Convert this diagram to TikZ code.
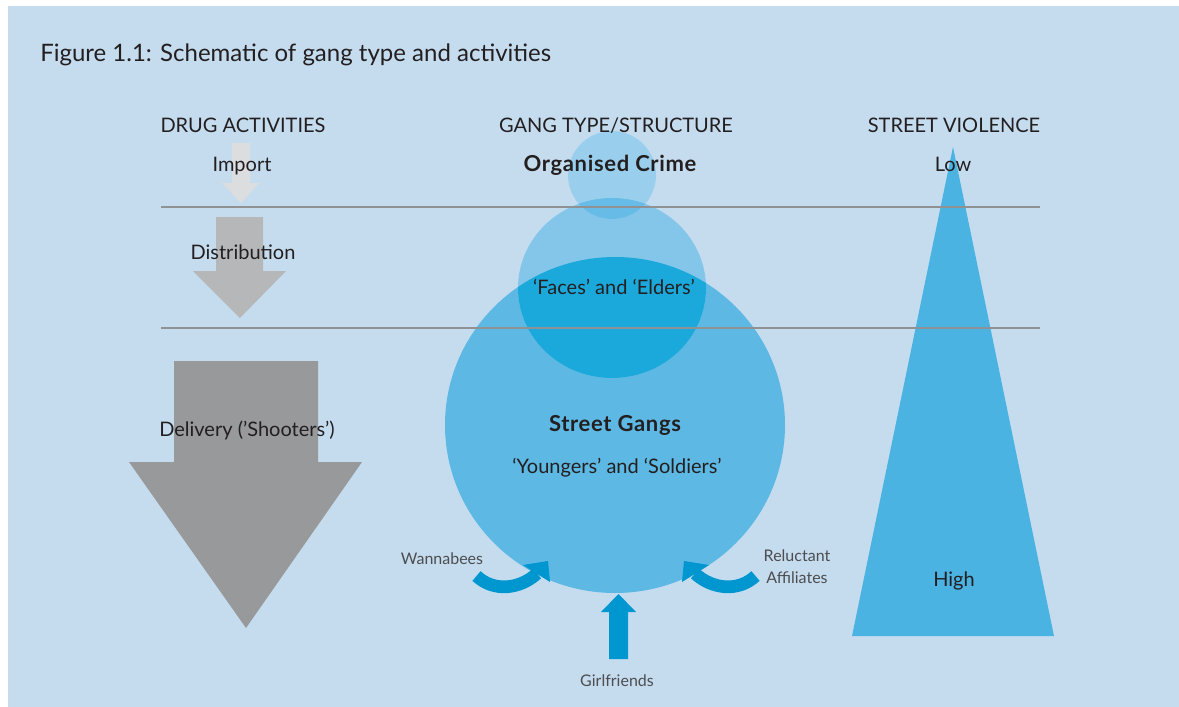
\documentclass[tikz,border=0pt]{standalone}
\usepackage{fontspec}
\setmainfont{Lato}
\definecolor{bg}{HTML}{C5DCEF}
\definecolor{sepline}{HTML}{909193}
\definecolor{impc}{HTML}{DCDDDE}
\definecolor{distc}{HTML}{B6B7B9}
\definecolor{delc}{HTML}{98999B}
\definecolor{txt}{HTML}{231F20}
\definecolor{lbl}{HTML}{4D4D4F}
\definecolor{bigc}{HTML}{5DB8E3}
\definecolor{midc}{HTML}{84C6E9}
\definecolor{midover}{HTML}{1BA9DC}
\definecolor{smallc}{HTML}{99CFEC}
\definecolor{smallover}{HTML}{66BCE6}
\definecolor{tric}{HTML}{4AB3E2}
\definecolor{arrc}{HTML}{0096D0}
\begin{document}
\begin{tikzpicture}[x=0.75pt,y=-0.75pt,
  txtbase/.style={inner sep=0pt, text=txt, text height=0.72em, text depth=0em, yshift=-2.6pt},
  titlestyle/.style={txtbase, font=\fontsize{18}{21}\selectfont},
  hdr/.style={txtbase, font=\fontsize{15}{18}\selectfont},
  lab/.style={txtbase, font=\fontsize{15}{18}\selectfont},
  boldlab/.style={txtbase, font=\fontsize{16.5}{19}\bfseries\addfontfeatures{LetterSpace=3}\selectfont},
  small/.style={txtbase, font=\fontsize{12}{14}\selectfont, text=lbl},
  sepl/.style={draw=sepline, line width=1.5pt},
  band/.style={draw=arrc, line width=9.5pt},
]
\useasboundingbox (0,0) rectangle (1179,707);
\fill[bg] (8,6) rectangle (1179,707);

% title
\node[titlestyle, anchor=west] (title) at (40,53) {Figure 1.1: Schematic of gang type and activities};

% drug arrows
\fill[impc] (232,143) -- (250,143) -- (250,183) -- (259,183) -- (241,203) -- (222,183) -- (232,183) -- cycle;
\fill[distc] (216,217) -- (263,217) -- (263,271) -- (286,271) -- (240,318) -- (193,271) -- (216,271) -- cycle;
\fill[delc] (174,361) -- (318,361) -- (318,462) -- (362,462) -- (246,628) -- (129,462) -- (174,462) -- cycle;

% circles
\fill[bigc] (615,425) ellipse [x radius=170, y radius=168];
\fill[midc] (612,288) ellipse [x radius=94, y radius=90];
\begin{scope}
  \clip (615,425) ellipse [x radius=170, y radius=168];
  \fill[midover] (612,288) ellipse [x radius=94, y radius=90];
\end{scope}
\fill[smallc] (612,175) ellipse [x radius=44, y radius=44];
\begin{scope}
  \clip (612,288) ellipse [x radius=94, y radius=90];
  \fill[smallover] (612,175) ellipse [x radius=44, y radius=44];
\end{scope}

% triangle
\fill[tric] (953,147) -- (1054,636) -- (852,636) -- cycle;

% separator lines
\coordinate (l1a) at (161,207);
\coordinate (l1b) at (1040,207);
\coordinate (l2a) at (161,328);
\coordinate (l2b) at (1040,328);
\draw[sepl] (l1a) -- (l1b);
\draw[sepl] (l2a) -- (l2b);

% joining arrows
\coordinate (wstart) at (476.5,576);
\coordinate (wend) at (537,573.5);
\draw[band] (wstart) .. controls (493.5,592) and (519.5,589.5) .. (wend);
\fill[arrc] (523,565) -- (548,561) -- (550,582) -- cycle;
\coordinate (rstart) at (755.5,576);
\coordinate (rend) at (695,573.5);
\draw[band] (rstart) .. controls (738.5,592) and (712.5,589.5) .. (rend);
\fill[arrc] (709,565) -- (684,561) -- (682,582) -- cycle;
\fill[arrc] (609,659) -- (628,659) -- (628,612) -- (636,612) -- (618.5,594) -- (601,612) -- (609,612) -- cycle;

% headers
\node[hdr] (h1) at (243,124) {DRUG ACTIVITIES};
\node[hdr] (h2) at (616,124) {GANG TYPE/STRUCTURE};
\node[hdr] (h3) at (954,124) {STREET VIOLENCE};

% labels
\node[lab] (imp) at (242,163) {Import};
\node[boldlab] (oc) at (610,163) {Organised Crime};
\node[lab] (low) at (953,163) {Low};
\node[lab] (dist) at (243,251) {Distribution};
\node[lab] (faces) at (614,286) {‘Faces’ and ‘Elders’};
\node[lab] (deliv) at (247,428) {Delivery (’Shooters’)};
\node[boldlab] (sg) at (615,423) {Street Gangs};
\node[lab] (young) at (617,465) {‘Youngers’ and ‘Soldiers’};
\node[lab] (high) at (954,578) {High};
\node[small] (wan) at (442,556) {Wannabees};
\node[small] (rel) at (797,553) {Reluctant};
\node[small] (aff) at (797,575) {Affiliates};
\node[small] (girl) at (617,678) {Girlfriends};
\end{tikzpicture}
\end{document}
